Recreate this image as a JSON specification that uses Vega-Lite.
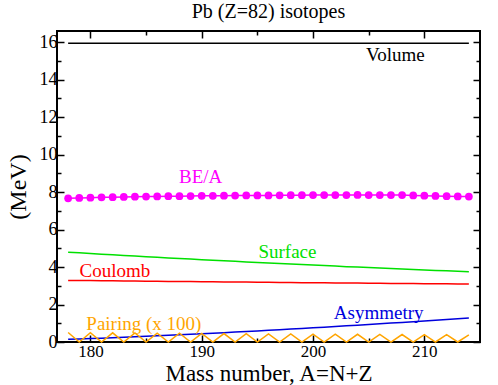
{
  "$schema": "https://vega.github.io/schema/vega-lite/v6.json",
  "width": 423,
  "height": 311,
  "autosize": {"type": "none"},
  "padding": {"left": 57, "top": 31, "right": 18, "bottom": 43},
  "background": "white",
  "title": {"text": "Pb (Z=82) isotopes", "font": "Liberation Serif, Times New Roman, serif", "fontSize": 20, "fontWeight": "normal", "color": "black", "anchor": "middle", "offset": 8},
  "config": {
    "font": "Liberation Serif, Times New Roman, serif",
    "title": {"font": "Liberation Serif, Times New Roman, serif"},
    "view": {"stroke": "black", "strokeWidth": 2},
    "axis": {"grid": false, "domain": false, "labelFont": "Liberation Serif, Times New Roman, serif", "labelFontSize": 18, "labelColor": "black", "tickColor": "black", "tickWidth": 1.5, "titleFont": "Liberation Serif, Times New Roman, serif", "titleFontSize": 24, "titleFontWeight": "normal", "titleColor": "black"}
  },
  "datasets": {
    "terms": [
      {"A": 178, "vol": 15.95, "surf": 4.794, "coul": 3.289, "asym": 0.1448, "pair": 0.5053, "bea": 7.67},
      {"A": 179, "vol": 15.95, "surf": 4.758, "coul": 3.283, "asym": 0.1643, "pair": 0, "bea": 7.69},
      {"A": 180, "vol": 15.95, "surf": 4.723, "coul": 3.277, "asym": 0.1849, "pair": 0.4969, "bea": 7.70},
      {"A": 181, "vol": 15.95, "surf": 4.688, "coul": 3.270, "asym": 0.2064, "pair": 0, "bea": 7.72},
      {"A": 182, "vol": 15.95, "surf": 4.654, "coul": 3.264, "asym": 0.2289, "pair": 0.4887, "bea": 7.73},
      {"A": 183, "vol": 15.95, "surf": 4.620, "coul": 3.259, "asym": 0.2523, "pair": 0, "bea": 7.74},
      {"A": 184, "vol": 15.95, "surf": 4.587, "coul": 3.253, "asym": 0.2765, "pair": 0.4808, "bea": 7.755},
      {"A": 185, "vol": 15.95, "surf": 4.554, "coul": 3.247, "asym": 0.3015, "pair": 0, "bea": 7.76},
      {"A": 186, "vol": 15.95, "surf": 4.521, "coul": 3.241, "asym": 0.3274, "pair": 0.4731, "bea": 7.77},
      {"A": 187, "vol": 15.95, "surf": 4.489, "coul": 3.235, "asym": 0.3540, "pair": 0, "bea": 7.78},
      {"A": 188, "vol": 15.95, "surf": 4.457, "coul": 3.229, "asym": 0.3813, "pair": 0.4655, "bea": 7.785},
      {"A": 189, "vol": 15.95, "surf": 4.426, "coul": 3.224, "asym": 0.4094, "pair": 0, "bea": 7.79},
      {"A": 190, "vol": 15.95, "surf": 4.394, "coul": 3.218, "asym": 0.4382, "pair": 0.4582, "bea": 7.80},
      {"A": 191, "vol": 15.95, "surf": 4.364, "coul": 3.212, "asym": 0.4676, "pair": 0, "bea": 7.805},
      {"A": 192, "vol": 15.95, "surf": 4.334, "coul": 3.207, "asym": 0.4977, "pair": 0.4511, "bea": 7.81},
      {"A": 193, "vol": 15.95, "surf": 4.304, "coul": 3.201, "asym": 0.5283, "pair": 0, "bea": 7.815},
      {"A": 194, "vol": 15.95, "surf": 4.274, "coul": 3.196, "asym": 0.5596, "pair": 0.4441, "bea": 7.82},
      {"A": 195, "vol": 15.95, "surf": 4.245, "coul": 3.190, "asym": 0.5914, "pair": 0, "bea": 7.82},
      {"A": 196, "vol": 15.95, "surf": 4.216, "coul": 3.185, "asym": 0.6238, "pair": 0.4373, "bea": 7.825},
      {"A": 197, "vol": 15.95, "surf": 4.187, "coul": 3.179, "asym": 0.6566, "pair": 0, "bea": 7.83},
      {"A": 198, "vol": 15.95, "surf": 4.159, "coul": 3.174, "asym": 0.6900, "pair": 0.4307, "bea": 7.835},
      {"A": 199, "vol": 15.95, "surf": 4.131, "coul": 3.169, "asym": 0.7239, "pair": 0, "bea": 7.835},
      {"A": 200, "vol": 15.95, "surf": 4.104, "coul": 3.163, "asym": 0.7582, "pair": 0.4243, "bea": 7.84},
      {"A": 201, "vol": 15.95, "surf": 4.077, "coul": 3.158, "asym": 0.7929, "pair": 0, "bea": 7.84},
      {"A": 202, "vol": 15.95, "surf": 4.050, "coul": 3.153, "asym": 0.8281, "pair": 0.4180, "bea": 7.845},
      {"A": 203, "vol": 15.95, "surf": 4.023, "coul": 3.148, "asym": 0.8637, "pair": 0, "bea": 7.845},
      {"A": 204, "vol": 15.95, "surf": 3.997, "coul": 3.143, "asym": 0.8997, "pair": 0.4118, "bea": 7.85},
      {"A": 205, "vol": 15.95, "surf": 3.971, "coul": 3.137, "asym": 0.9360, "pair": 0, "bea": 7.845},
      {"A": 206, "vol": 15.95, "surf": 3.945, "coul": 3.132, "asym": 0.9727, "pair": 0.4059, "bea": 7.845},
      {"A": 207, "vol": 15.95, "surf": 3.920, "coul": 3.127, "asym": 1.0098, "pair": 0, "bea": 7.84},
      {"A": 208, "vol": 15.95, "surf": 3.895, "coul": 3.122, "asym": 1.0471, "pair": 0.4000, "bea": 7.84},
      {"A": 209, "vol": 15.95, "surf": 3.870, "coul": 3.117, "asym": 1.0848, "pair": 0, "bea": 7.825},
      {"A": 210, "vol": 15.95, "surf": 3.845, "coul": 3.112, "asym": 1.1228, "pair": 0.3943, "bea": 7.81},
      {"A": 211, "vol": 15.95, "surf": 3.821, "coul": 3.108, "asym": 1.1610, "pair": 0, "bea": 7.795},
      {"A": 212, "vol": 15.95, "surf": 3.797, "coul": 3.103, "asym": 1.1996, "pair": 0.3888, "bea": 7.785},
      {"A": 213, "vol": 15.95, "surf": 3.773, "coul": 3.098, "asym": 1.2384, "pair": 0, "bea": 7.77},
      {"A": 214, "vol": 15.95, "surf": 3.750, "coul": 3.093, "asym": 1.2774, "pair": 0.3833, "bea": 7.76}
    ],
    "labels": [
      {"term": "Volume", "A": 207.4, "v": 15.3},
      {"term": "BE/A", "A": 189.9, "v": 8.79},
      {"term": "Surface", "A": 197.7, "v": 4.83},
      {"term": "Coulomb", "A": 182.2, "v": 3.79},
      {"term": "Asymmetry", "A": 205.9, "v": 1.53},
      {"term": "Pairing (x 100)", "A": 184.8, "v": 0.95}
    ]
  },
  "data": {"name": "terms"},
  "resolve": {"axis": {"x": "independent", "y": "independent"}},
  "layer": [
    {
      "mark": {"type": "line", "color": "black", "strokeWidth": 1.5},
      "encoding": {
        "x": {"field": "A", "type": "quantitative", "scale": {"domain": [177, 215], "nice": false, "zero": false},
          "axis": {"orient": "bottom", "values": [180, 185, 190, 195, 200, 205, 210], "labelExpr": "datum.value % 10 == 0 ? datum.label : ''",
            "labelFontSize": 17, "titleFontSize": 23,
            "tickSize": {"condition": {"test": "datum.value % 10 == 0", "value": -7}, "value": -4}, "labelPadding": 8, "title": "Mass number, A=N+Z", "titlePadding": 3}},
        "y": {"field": "vol", "type": "quantitative", "scale": {"domain": [0, 16.6], "nice": false, "zero": false},
          "axis": {"orient": "left", "values": [0, 1, 2, 3, 4, 5, 6, 7, 8, 9, 10, 11, 12, 13, 14, 15, 16], "labelExpr": "datum.value % 2 == 0 ? datum.label : ''",
            "tickSize": {"condition": {"test": "datum.value % 2 == 0", "value": -7}, "value": -4}, "labelPadding": 7, "title": "(MeV)", "titlePadding": 9}}
      }
    },
    {
      "mark": {"type": "line", "color": "#00e000", "strokeWidth": 1.5},
      "encoding": {
        "x": {"field": "A", "type": "quantitative", "scale": {"domain": [177, 215], "nice": false, "zero": false},
          "axis": {"orient": "top", "values": [180, 185, 190, 195, 200, 205, 210], "labels": false, "title": null,
            "tickSize": {"condition": {"test": "datum.value % 10 == 0", "value": -7}, "value": -4}}},
        "y": {"field": "surf", "type": "quantitative", "scale": {"domain": [0, 16.6], "nice": false, "zero": false},
          "axis": {"orient": "right", "values": [0, 1, 2, 3, 4, 5, 6, 7, 8, 9, 10, 11, 12, 13, 14, 15, 16], "labels": false, "title": null,
            "tickSize": {"condition": {"test": "datum.value % 2 == 0", "value": -7}, "value": -4}}}
      }
    },
    {
      "mark": {"type": "line", "color": "#ff0000", "strokeWidth": 1.5},
      "encoding": {
        "x": {"field": "A", "type": "quantitative", "scale": {"domain": [177, 215], "nice": false, "zero": false}, "axis": null},
        "y": {"field": "coul", "type": "quantitative", "scale": {"domain": [0, 16.6], "nice": false, "zero": false}, "axis": null}
      }
    },
    {
      "mark": {"type": "line", "color": "#0000dd", "strokeWidth": 1.5},
      "encoding": {
        "x": {"field": "A", "type": "quantitative", "scale": {"domain": [177, 215], "nice": false, "zero": false}, "axis": null},
        "y": {"field": "asym", "type": "quantitative", "scale": {"domain": [0, 16.6], "nice": false, "zero": false}, "axis": null}
      }
    },
    {
      "mark": {"type": "line", "color": "#ffa500", "strokeWidth": 1.5},
      "encoding": {
        "x": {"field": "A", "type": "quantitative", "scale": {"domain": [177, 215], "nice": false, "zero": false}, "axis": null},
        "y": {"field": "pair", "type": "quantitative", "scale": {"domain": [0, 16.6], "nice": false, "zero": false}, "axis": null}
      }
    },
    {
      "mark": {"type": "line", "color": "#ff00ff", "strokeWidth": 1.5},
      "encoding": {
        "x": {"field": "A", "type": "quantitative", "scale": {"domain": [177, 215], "nice": false, "zero": false}, "axis": null},
        "y": {"field": "bea", "type": "quantitative", "scale": {"domain": [0, 16.6], "nice": false, "zero": false}, "axis": null}
      }
    },
    {
      "mark": {"type": "point", "filled": true, "color": "#ff00ff", "opacity": 1, "size": 60, "shape": "circle"},
      "encoding": {
        "x": {"field": "A", "type": "quantitative", "scale": {"domain": [177, 215], "nice": false, "zero": false}, "axis": null},
        "y": {"field": "bea", "type": "quantitative", "scale": {"domain": [0, 16.6], "nice": false, "zero": false}, "axis": null}
      }
    },
    {
      "data": {"name": "labels"},
      "mark": {"type": "text", "fontSize": 19, "align": "center", "baseline": "middle"},
      "encoding": {
        "x": {"field": "A", "type": "quantitative", "scale": {"domain": [177, 215], "nice": false, "zero": false}, "axis": null},
        "y": {"field": "v", "type": "quantitative", "scale": {"domain": [0, 16.6], "nice": false, "zero": false}, "axis": null},
        "text": {"field": "term"},
        "color": {"field": "term", "type": "nominal", "legend": null,
          "scale": {"domain": ["Volume", "BE/A", "Surface", "Coulomb", "Asymmetry", "Pairing (x 100)"], "range": ["black", "#ff00ff", "#00e000", "#ff0000", "#0000dd", "#ffa500"]}}
      }
    }
  ]
}
